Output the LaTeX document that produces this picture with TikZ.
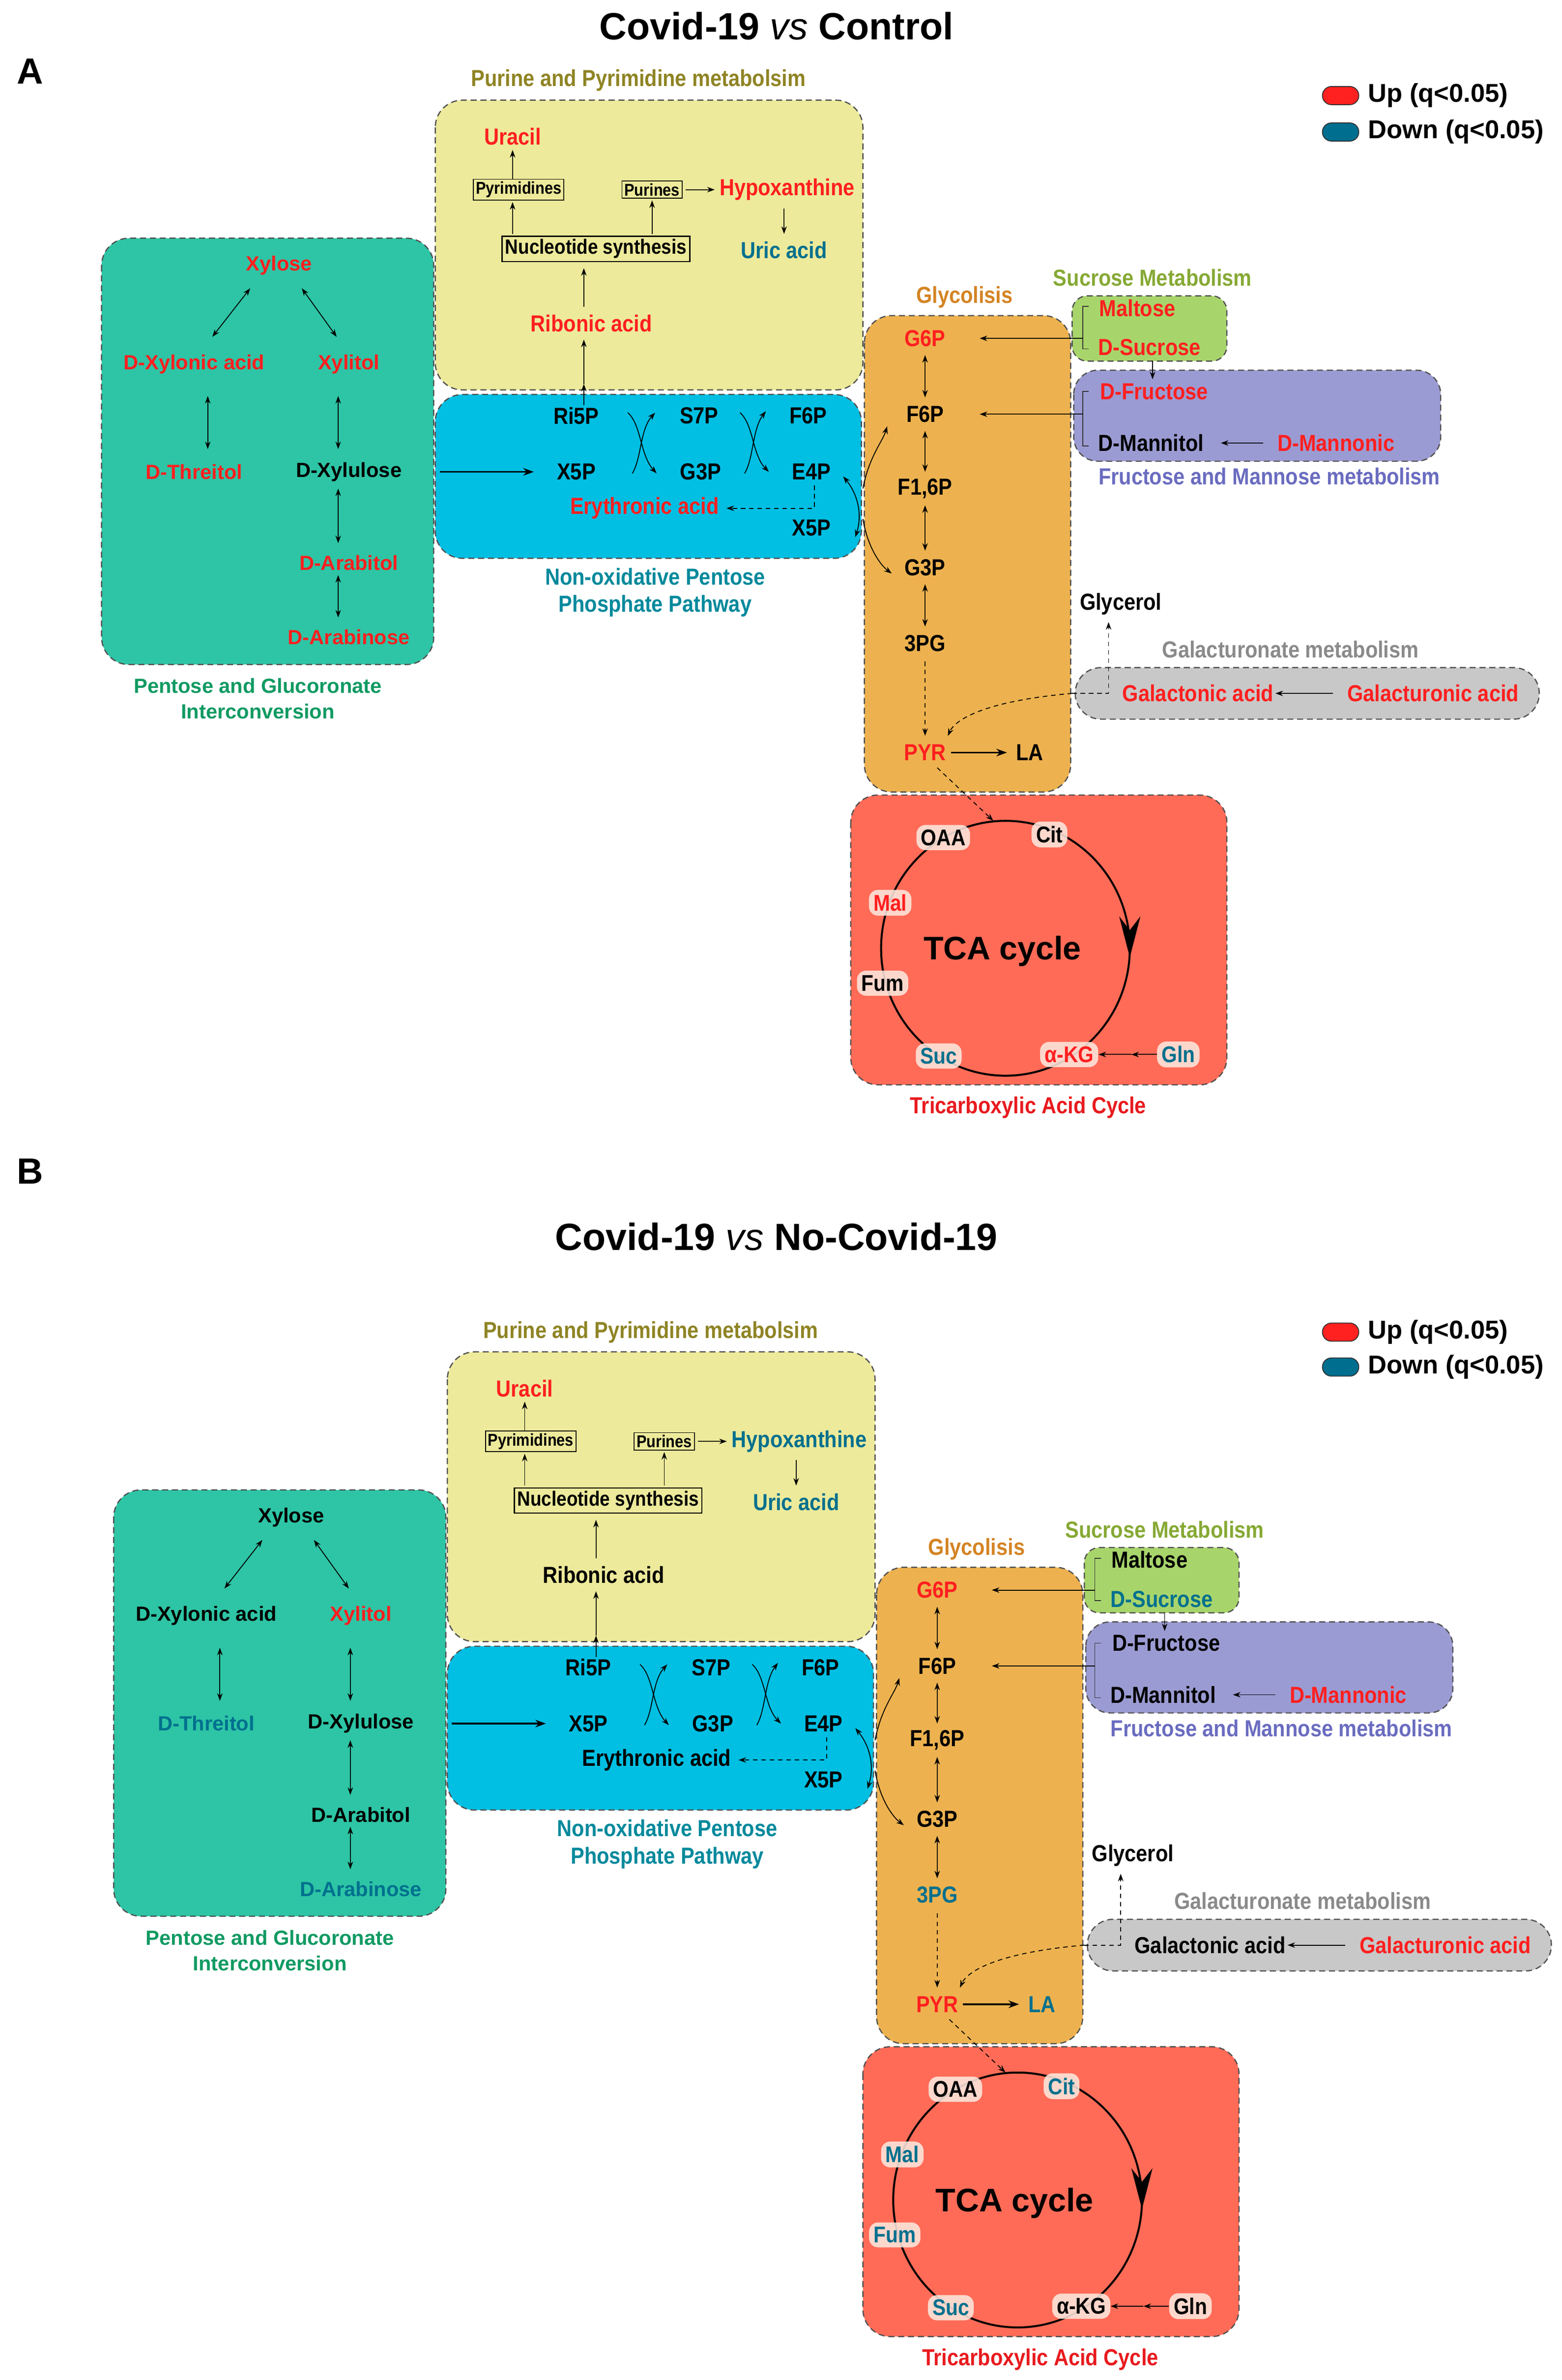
\documentclass[tikz,border=0pt]{standalone}
\usepackage{fontspec}
\setmainfont{Liberation Sans}
\newfontfamily\nf{Liberation Sans}[FakeStretch=0.88]
\usetikzlibrary{arrows.meta,calc}

\definecolor{up}{HTML}{FF1F1F}
\definecolor{down}{HTML}{00708E}
\definecolor{yel}{HTML}{EDEA9B}
\definecolor{cyanb}{HTML}{00BFE3}
\definecolor{pgreen}{HTML}{2DC5A5}
\definecolor{orng}{HTML}{EDB24F}
\definecolor{lgreen}{HTML}{A8D56B}
\definecolor{purp}{HTML}{9B9BD3}
\definecolor{grayb}{HTML}{C8C8C8}
\definecolor{tcar}{HTML}{FF6B57}
\definecolor{pillf}{HTML}{FCE6DD}
\definecolor{olive}{HTML}{8F8424}
\definecolor{pgtxt}{HTML}{109A62}
\definecolor{nptxt}{HTML}{00899C}
\definecolor{glytxt}{HTML}{D48424}
\definecolor{sutxt}{HTML}{86A934}
\definecolor{fmtxt}{HTML}{6A6CC0}
\definecolor{gatxt}{HTML}{8A8A8A}
\definecolor{tcatxt}{HTML}{E81A1E}
\definecolor{bord}{HTML}{505050}
\definecolor{legred}{HTML}{FF2020}
\definecolor{legblue}{HTML}{006E8F}

\newcommand\lf{\nf\fontsize{15.3}{18}\selectfont\bfseries}
\newcommand\wf{\fontsize{13.5}{17}\selectfont\bfseries}

\tikzset{
 lab/.style={font=\lf, inner sep=1pt},
 wlab/.style={font=\wf, inner sep=1pt},
 grp/.style={font=\lf, inner sep=1pt, align=center},
 wgrp/.style={font=\wf, inner sep=1pt, align=center},
 sbox/.style={draw=black, line width=0.6pt, font=\nf\fontsize{11.3}{13}\selectfont\bfseries, inner sep=1.6pt},
 nbox/.style={draw=black, line width=0.8pt, font=\nf\fontsize{13.6}{15}\selectfont\bfseries, inner sep=2pt},
 pill/.style={fill=pillf, fill opacity=0.88, text opacity=1, rounded corners=6pt, inner xsep=3pt, inner ysep=3pt, font=\nf\fontsize{15}{17}\selectfont\bfseries},
 grpbox/.style={draw=bord, line width=0.8pt, dash pattern=on 4pt off 2.5pt, rounded corners=18pt},
 arr/.style={-{Stealth[length=5pt,width=3.6pt]}, line width=0.6pt},
 dbl/.style={{Stealth[length=5pt,width=3.6pt]}-{Stealth[length=5pt,width=3.6pt]}, line width=0.6pt},
 darr/.style={arr, dash pattern=on 3pt off 2.5pt},
 barr/.style={-{Stealth[length=7pt,width=5pt]}, line width=1.1pt},
 brk/.style={line width=0.5pt, draw=black!80},
 legpill/.style={draw=black!80, line width=0.6pt, minimum width=24pt, minimum height=12pt, rounded corners=6pt, inner sep=0pt},
 legtxt/.style={anchor=west, font=\fontsize{17}{20}\selectfont\bfseries, inner sep=0pt},
}

\newcommand\drawpanel[1]{%
 % ---- group boxes
 \draw[grpbox,fill=yel] (287,66) rectangle (569,257);
 \draw[grpbox,fill=cyanb] (287,260) rectangle (568,368);
 \draw[grpbox,fill=pgreen] (67,157) rectangle (286,438);
 \draw[grpbox,fill=orng] (570,208) rectangle (706,522);
 \draw[grpbox,fill=lgreen,rounded corners=10pt] (707,195) rectangle (809,238);
 \draw[grpbox,fill=purp,rounded corners=16pt] (708,244) rectangle (950,304);
 \draw[grpbox,fill=grayb,rounded corners=17pt] (709,440) rectangle (1015,474);
 \draw[grpbox,fill=tcar] (561,524) rectangle (809,715);
 \draw[line width=1.3pt] (663,625) ellipse [x radius=82pt, y radius=84pt];
 \fill (745,631) -- (738,604) -- (745,613) -- (752,604) -- cycle;
 % ---- group labels
 \node[grp,text=olive] (#1lpur) at (421,53) {Purine and Pyrimidine metabolsim};
 \node[grp,text=nptxt] (#1lppp) at (432,390.5) {Non-oxidative Pentose\\Phosphate Pathway};
 \node[wgrp,text=pgtxt] (#1lpg) at (170,460.5) {Pentose and Glucoronate\\Interconversion};
 \node[grp,text=glytxt] (#1lgly) at (636,196) {Glycolisis};
 \node[grp,text=sutxt] (#1lsuc) at (760,183) {Sucrose Metabolism};
 \node[grp,text=fmtxt] (#1lfm) at (837,314) {Fructose and Mannose metabolism};
 \node[grp,text=gatxt] (#1lga) at (851,428) {Galacturonate metabolism};
 \node[grp,text=tcatxt] (#1ltca) at (678,730) {Tricarboxylic Acid Cycle};
 % ---- purine / pyrimidine
 \node[lab,text=cura] (#1ura) at (338,90) {Uracil};
 \node[sbox] (#1pyr) at (342,125) {Pyrimidines};
 \node[sbox] (#1pur) at (430,125) {Purines};
 \node[lab,text=chyp] (#1hyp) at (519,125) {Hypoxanthine};
 \node[nbox] (#1nuc) at (393,164) {Nucleotide synthesis};
 \node[lab,text=curi] (#1uri) at (517,165) {Uric acid};
 \node[lab,text=crib] (#1rib) at (390,213) {Ribonic acid};
 % ---- pentose phosphate
 \node[lab] (#1ri5) at (380,274) {Ri5P};
 \node[lab] (#1s7p) at (461,274) {S7P};
 \node[lab] (#1f6a) at (533,274) {F6P};
 \node[lab] (#1x5a) at (380,311) {X5P};
 \node[lab] (#1g3a) at (462,311) {G3P};
 \node[lab] (#1e4p) at (535,311) {E4P};
 \node[lab,text=cery] (#1ery) at (425,335) {Erythronic acid};
 \node[lab] (#1x5b) at (535,348) {X5P};
 \coordinate (#1rim) at (385,253);
 % ---- pentose and glucoronate
 \node[wlab,text=cxyl] (#1xyl) at (184,175) {Xylose};
 \node[wlab,text=cxya] (#1xya) at (128,240) {D-Xylonic acid};
 \node[wlab,text=cxyt] (#1xyt) at (230,240) {Xylitol};
 \node[wlab,text=cthr] (#1thr) at (128,311) {D-Threitol};
 \node[wlab,text=cxlu] (#1xlu) at (230,311) {D-Xylulose};
 \node[wlab,text=carl] (#1arl) at (230,371) {D-Arabitol};
 \node[wlab,text=carn] (#1arn) at (230,420) {D-Arabinose};
 % ---- glycolysis
 \node[lab,text=cg6p] (#1g6p) at (610,223) {G6P};
 \node[lab] (#1f6p) at (610,273) {F6P};
 \node[lab] (#1f16) at (610,322) {F1,6P};
 \node[lab] (#1g3p) at (610,374) {G3P};
 \node[lab,text=cpg3] (#1pg3) at (610,424) {3PG};
 \node[lab,text=cpyv] (#1pyv) at (610,496) {PYR};
 \node[lab,text=cla] (#1la) at (679,496) {LA};
 % ---- sucrose, fructose/mannose, galacturonate
 \node[lab,text=cmal] (#1mal) at (750,203) {Maltose};
 \node[lab,text=csuc] (#1suc) at (758,229) {D-Sucrose};
 \node[lab,text=cfru] (#1fru) at (761,258) {D-Fructose};
 \node[lab,text=cmnt] (#1mnt) at (759,292) {D-Mannitol};
 \node[lab,text=cmnn] (#1mnn) at (881,292) {D-Mannonic};
 \node[lab] (#1gly) at (739,398) {Glycerol};
 \node[lab,text=cgan] (#1gan) at (790,457) {Galactonic acid};
 \node[lab,text=cgur] (#1gur) at (945,457) {Galacturonic acid};
 % ---- TCA
 \node[font=\fontsize{21.5}{24}\selectfont\bfseries] (#1tca) at (661,627) {TCA cycle};
 \node[pill,text=coaa] (#1oaa) at (622,552) {OAA};
 \node[pill,text=ccit] (#1cit) at (692,550) {Cit};
 \node[pill,text=cmlt] (#1mlt) at (587,595) {Mal};
 \node[pill,text=cfum] (#1fum) at (582,648) {Fum};
 \node[pill,text=csux] (#1sux) at (619,696) {Suc};
 \node[pill,text=cakg] (#1akg) at (705,695) {α-KG};
 \node[pill,text=cgln] (#1gln) at (777,695) {Gln};
 \coordinate (#1kgm) at (746,695);
 % ---- connectors: purine / pyrimidine
 \draw[arr,shorten >=2pt] (#1pyr.north -| #1ura) -- (#1ura.south);
 \draw[arr,shorten <=1pt,shorten >=1pt] (#1nuc.north -| #1ura) -- (#1pyr.south -| #1ura);
 \draw[arr,shorten <=1pt,shorten >=1pt] (#1nuc.north -| #1pur) -- (#1pur.south);
 \draw[arr,shorten <=2pt,shorten >=2pt] (#1pur.east) -- (#1hyp.west);
 \draw[arr,shorten <=4pt,shorten >=4pt] (#1hyp.south -| #1uri) -- (#1uri.north);
 \draw[arr] ($(#1rib.north)+(-5,-4)$) -- ($(#1nuc.south)+(-8,4)$);
 \draw[arr] ($(#1ri5.north)+(5,0)$) -- (#1rim);
 \draw[arr] (#1rim) -- ($(#1rib.south)+(-5,4)$);
 % ---- connectors: pentose phosphate
 \draw[arr] ($(#1ri5)+(34,-2)$) .. controls ($(#1ri5)+(43,6)$) and ($(#1g3a)+(-40,-11)$) .. ($(#1g3a)+(-29,1)$);
 \draw[arr] ($(#1x5a)+(37,1)$) .. controls ($(#1x5a)+(43,-9)$) and ($(#1s7p)+(-39,9)$) .. ($(#1s7p)+(-29,-2)$);
 \draw[arr] ($(#1s7p)+(27,-2)$) .. controls ($(#1s7p)+(36,6)$) and ($(#1e4p)+(-39,-11)$) .. ($(#1e4p)+(-28,0)$);
 \draw[arr] ($(#1g3a)+(29,1)$) .. controls ($(#1g3a)+(35,-9)$) and ($(#1f6a)+(-37,9)$) .. ($(#1f6a)+(-28,-3)$);
 \draw[darr] ($(#1e4p)+(2,9)$) -- ($(#1e4p)+(2,24)$) -- ($(#1ery)+(54,0)$);
 \draw[dbl] ($(#1e4p)+(21,3)$) .. controls ($(#1e4p)+(30,14)$) and ($(#1x5b)+(34,-10)$) .. ($(#1x5b)+(29,6)$);
 \draw[arr] ($(#1e4p)+(34,11)$) .. controls ($(#1e4p)+(38,-10)$) and ($(#1f6p)+(-28,18)$) .. ($(#1f6p)+(-25,8)$);
 \draw[arr] ($(#1x5b)+(34,-6)$) .. controls ($(#1x5b)+(37,12)$) and ($(#1g3p)+(-30,-2)$) .. ($(#1g3p)+(-22,4)$);
 \draw[barr] ($(#1xlu)+(60,0)$) -- ($(#1x5a)+(-28,0)$);
 % ---- connectors: pentose and glucoronate
 \draw[dbl] ($(#1xyl)+(-19,15)$) -- ($(#1xya)+(12,-18)$);
 \draw[dbl] ($(#1xyl)+(15,15)$) -- ($(#1xyt)+(-8,-18)$);
 \draw[dbl] ($(#1xya)+(9,21)$) -- ($(#1thr)+(9,-15)$);
 \draw[dbl] ($(#1xyt)+(-7,21)$) -- ($(#1xlu)+(-7,-15)$);
 \draw[dbl] ($(#1xlu)+(-7,11)$) -- ($(#1arl)+(-7,-13)$);
 \draw[dbl] ($(#1arl)+(-7,8)$) -- ($(#1arn)+(-7,-13)$);
 % ---- connectors: glycolysis
 \draw[dbl] ($(#1g6p)+(0,11)$) -- ($(#1f6p)+(0,-11)$);
 \draw[dbl] ($(#1f6p)+(0,11)$) -- ($(#1f16)+(0,-11)$);
 \draw[dbl] ($(#1f16)+(0,11)$) -- ($(#1g3p)+(0,-11)$);
 \draw[dbl] ($(#1g3p)+(0,11)$) -- ($(#1pg3)+(0,-11)$);
 \draw[darr] ($(#1pg3)+(0,12)$) -- ($(#1pyv)+(0,-11)$);
 \draw[barr] ($(#1pyv)+(17,0)$) -- ($(#1la)+(-15,0)$);
 \draw[darr] ($(#1pyv)+(8,10)$) -- ($(#1oaa)+(33,-11)$);
 % ---- connectors: sugars
 \draw[brk] ($(#1mal)+(-32,-1)$) -- ($(#1mal)+(-36,-1)$) -- ($(#1suc)+(-44,1)$) -- ($(#1suc)+(-40,1)$);
 \draw[arr] ($(#1suc)+(-44,-6)$) -- ($(#1g6p)+(36,0)$);
 \draw[arr,line width=0.5pt] ($(#1suc)+(2,9)$) -- ($(#1fru)+(-1,-8)$);
 \draw[brk] ($(#1fru)+(-43,0)$) -- ($(#1fru)+(-47,0)$) -- ($(#1mnt)+(-45,2)$) -- ($(#1mnt)+(-41,2)$);
 \draw[arr] ($(#1fru)+(-47,15)$) -- ($(#1f6p)+(36,0)$);
 \draw[arr] ($(#1mnn)+(-48,0)$) -- ($(#1mnt)+(46,0)$);
 \draw[arr] ($(#1gur)+(-66,0)$) -- ($(#1gan)+(51,0)$);
 \draw[darr] ($(#1gan)+(-83,0)$) -- ($(#1gan)+(-59,0)$) -- ($(#1gly)+(-8,12)$);
 \draw[darr] ($(#1gan)+(-83,0)$) .. controls ($(#1gan)+(-140,5)$) and ($(#1pyv)+(20,-22)$) .. ($(#1pyv)+(15,-11)$);
 % ---- connectors: TCA
 \draw[arr] (#1gln.west) -- (#1kgm);
 \draw[arr] (#1kgm) -- (#1akg.east);
}

\begin{document}
\begin{tikzpicture}[x=1pt,y=-1pt]
\useasboundingbox (0,0) rectangle (1030,1568.66);
\fill[white] (0,0) rectangle (1030,1568.66);

% ===== Panel A =====
\node[font=\fontsize{25}{30}\selectfont\bfseries] (titleA) at (512,17) {Covid-19 {\mdseries\itshape vs} Control};
\node[font=\fontsize{24}{28}\selectfont\bfseries] (letA) at (20,47) {A};
\node[legpill,fill=legred] (upA) at (884,63) {};
\node[legtxt] (upAt) at (902,63) {Up (q<0.05)};
\node[legpill,fill=legblue] (dnA) at (884,87) {};
\node[legtxt] (dnAt) at (902,87) {Down (q<0.05)};

\colorlet{cura}{up}\colorlet{chyp}{up}\colorlet{curi}{down}\colorlet{crib}{up}
\colorlet{cery}{up}\colorlet{cxyl}{up}\colorlet{cxya}{up}\colorlet{cxyt}{up}
\colorlet{cthr}{up}\colorlet{cxlu}{black}\colorlet{carl}{up}\colorlet{carn}{up}
\colorlet{cg6p}{up}\colorlet{cpg3}{black}\colorlet{cpyv}{up}\colorlet{cla}{black}
\colorlet{cmal}{up}\colorlet{csuc}{up}\colorlet{cfru}{up}\colorlet{cmnt}{black}
\colorlet{cmnn}{up}\colorlet{cgan}{up}\colorlet{cgur}{up}\colorlet{coaa}{black}
\colorlet{ccit}{black}\colorlet{cmlt}{up}\colorlet{cfum}{black}\colorlet{csux}{down}
\colorlet{cakg}{up}\colorlet{cgln}{down}
\begin{scope}
\drawpanel{a}
\end{scope}

% ===== Panel B =====
\node[font=\fontsize{25}{30}\selectfont\bfseries] (titleB) at (512,815) {Covid-19 {\mdseries\itshape vs} No-Covid-19};
\node[font=\fontsize{24}{28}\selectfont\bfseries] (letB) at (20,772) {B};
\node[legpill,fill=legred] (upB) at (884,878) {};
\node[legtxt] (upBt) at (902,878) {Up (q<0.05)};
\node[legpill,fill=legblue] (dnB) at (884,901) {};
\node[legtxt] (dnBt) at (902,901) {Down (q<0.05)};

\colorlet{cura}{up}\colorlet{chyp}{down}\colorlet{curi}{down}\colorlet{crib}{black}
\colorlet{cery}{black}\colorlet{cxyl}{black}\colorlet{cxya}{black}\colorlet{cxyt}{up}
\colorlet{cthr}{down}\colorlet{cxlu}{black}\colorlet{carl}{black}\colorlet{carn}{down}
\colorlet{cg6p}{up}\colorlet{cpg3}{down}\colorlet{cpyv}{up}\colorlet{cla}{down}
\colorlet{cmal}{black}\colorlet{csuc}{down}\colorlet{cfru}{black}\colorlet{cmnt}{black}
\colorlet{cmnn}{up}\colorlet{cgan}{black}\colorlet{cgur}{up}\colorlet{coaa}{black}
\colorlet{ccit}{down}\colorlet{cmlt}{down}\colorlet{cfum}{down}\colorlet{csux}{down}
\colorlet{cakg}{black}\colorlet{cgln}{black}
\begin{scope}[shift={(8,825)}]
\drawpanel{b}
\end{scope}
\end{tikzpicture}
\end{document}
